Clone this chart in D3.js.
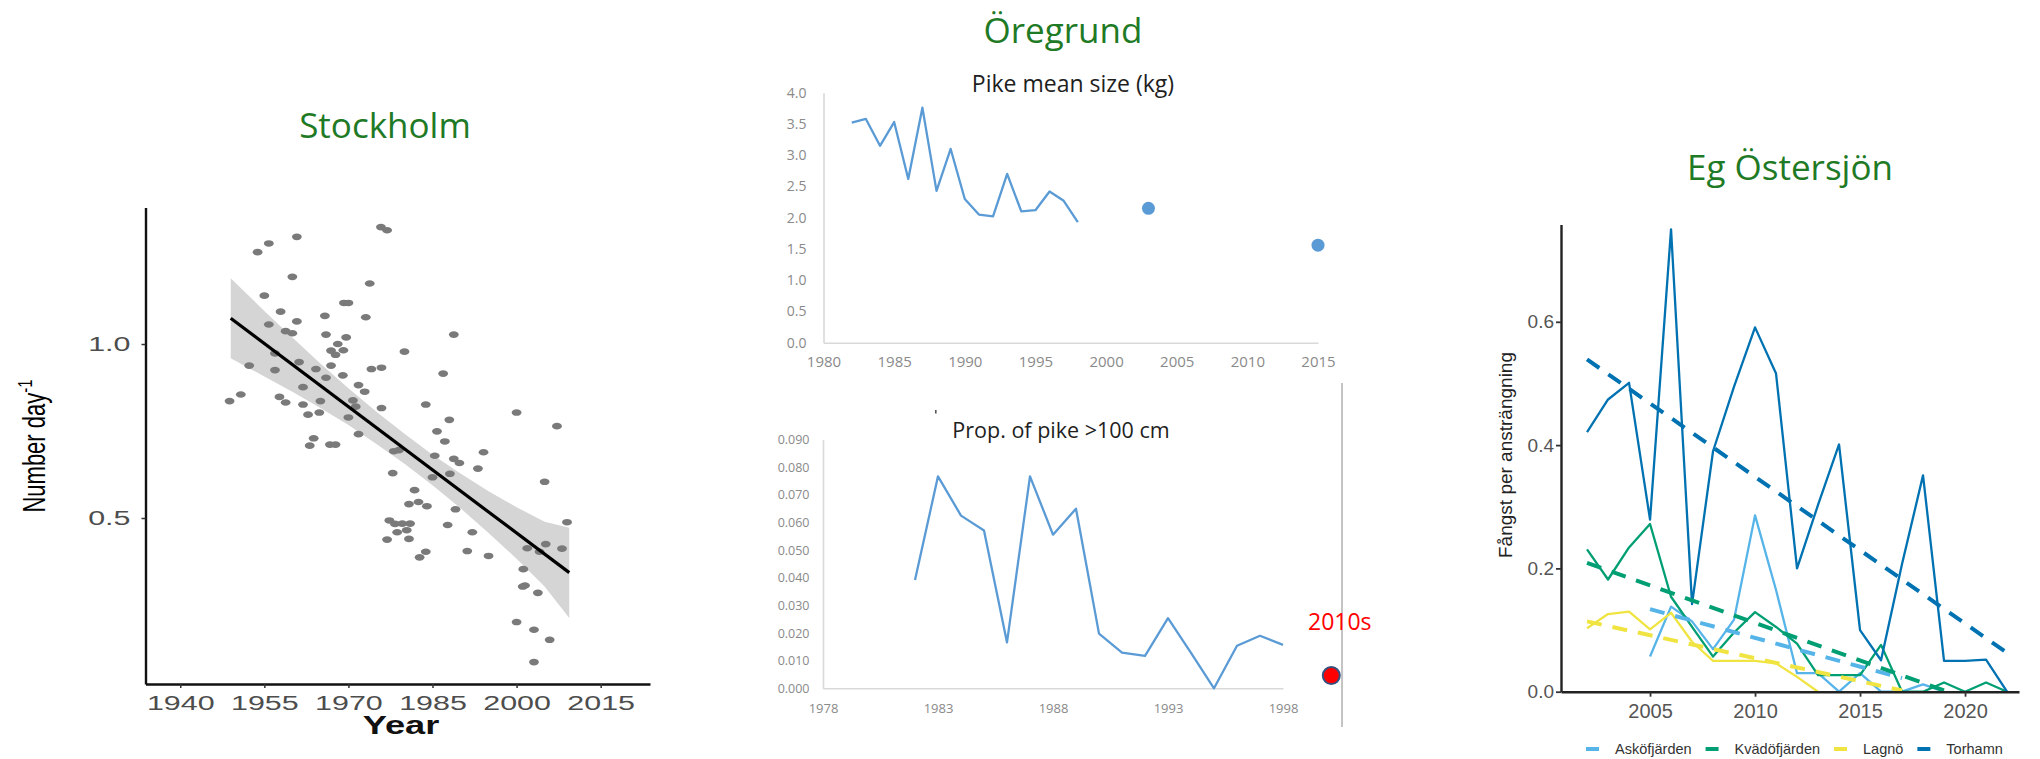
<!DOCTYPE html>
<html>
<head>
<meta charset="utf-8">
<script src="https://cdn.jsdelivr.net/npm/d3@7"></script>
<style>
  body { margin: 0; background: #fff; }
  svg text { font-family: "Open Sans", sans-serif; }
  .gg text { font-family: "Liberation Sans", Arial, sans-serif; }
</style>
</head>
<body>
<svg id="chart" width="2040" height="759"></svg>
<script>
// ---- Stockholm: catch per day, scatter + linear fit ----
const sthlmPoints = [
  [1948.8,0.836],[1950.8,0.855],[1952.3,0.938],[1953.8,1.264],[1955.8,1.289],[1955,1.139],
  [1955.8,1.056],[1956.9,0.973],[1956.9,0.925],[1957.9,1.093],[1957.7,0.848],[1958.8,0.832],
  [1958.8,1.037],[1960,1.193],[1960.8,1.308],[1960.8,1.065],[1960,1.031],[1961.2,0.948],
  [1961.9,0.876],[1961.9,0.826],[1962.8,0.797],[1963.1,0.708],[1963.8,0.729],[1964.2,0.928],
  [1964.8,0.803],[1965,0.836],[1965.8,1.081],[1966,1.027],[1966,0.903],[1966.7,0.711],
  [1967.7,0.711],[1966.9,0.938],[1966.9,0.981],[1968.1,1.0],[1967.7,0.969],[1969.1,0.982],
  [1969,0.91],[1969.2,1.118],[1970,1.118],[1969.6,1.019],[1970,0.789],[1970.8,0.838],
  [1971.3,0.82],[1971.8,0.882],[1971.8,0.741],[1972.9,0.863],[1973.1,1.077],[1973.8,1.174],
  [1974.1,0.928],[1975.8,1.336],[1976.9,1.327],[1975.9,0.932],[1975.9,0.816],[1976.9,0.438],
  [1977.3,0.493],[1977.9,0.629],[1978.1,0.692],[1979,0.695],[1978.7,0.459],[1978.3,0.483],
  [1979.6,0.484],[1980,0.978],[1980.4,0.465],[1980.8,0.44],[1981,0.484],[1981.8,0.58],
  [1980.8,0.54],[1982.5,0.546],[1982.7,0.387],[1983.8,0.403],[1983.8,0.826],[1984,0.534],
  [1985,0.617],[1985.4,0.679],[1985.8,0.749],[1986.9,0.915],[1987.2,0.72],[1988,0.782],
  [1987.7,0.48],[1988.8,1.027],[1988.8,0.67],[1989.8,0.658],[1989.1,0.525],[1988.1,0.627],
  [1991.2,0.405],[1992.1,0.459],[1993.1,0.642],[1994.1,0.689],[1995,0.391],[2000,0.803],
  [2000,0.201],[2001.1,0.303],[2001.2,0.353],[2001.5,0.306],[2001.9,0.413],[2003.1,0.179],
  [2003.1,0.086],[2003.8,0.285],[2004.1,0.403],[2005,0.604],[2005.2,0.425],[2005.9,0.15],
  [2007.2,0.764],[2008.1,0.412],[2009,0.488]
];
const sthlmFitYears = [1949, 2009.4];
const sthlmFit = [1.074, 0.343];
const sthlmBandYears = [1949, 1955, 1960, 1965, 1970, 1975, 1980, 1985, 1990, 1995, 2000, 2005, 2009.4];
const sthlmBandUpper = [1.189, 1.095, 1.019, 0.944, 0.873, 0.805, 0.742, 0.682, 0.628, 0.577, 0.531, 0.489, 0.472];
const sthlmBandLower = [0.959, 0.907, 0.863, 0.816, 0.767, 0.713, 0.656, 0.594, 0.528, 0.457, 0.383, 0.303, 0.213];
const sthlmXTicks = [1940, 1955, 1970, 1985, 2000, 2015];
const sthlmYTicks = [0.5, 1.0];

// ---- Öregrund: pike mean size ----
const pikeYears = [1982,1983,1984,1985,1986,1987,1988,1989,1990,1991,1992,1993,1994,1995,1996,1997,1998];
const pikeSize = [3.52,3.58,3.15,3.53,2.62,3.76,2.43,3.10,2.30,2.05,2.02,2.70,2.10,2.12,2.42,2.27,1.93];
const pikeDotYears = [2003, 2015];
const pikeDotSize = [2.15, 1.56];
const pikeXTicks = [1980,1985,1990,1995,2000,2005,2010,2015];
const pikeYTicks = [0,0.5,1,1.5,2,2.5,3,3.5,4];

// ---- Öregrund: proportion of pike > 100 cm ----
const bigYears = [1982,1983,1984,1985,1986,1987,1988,1989,1990,1991,1992,1993,1994,1995,1996,1997,1998];
const bigProp = [0.0392,0.0767,0.0625,0.0571,0.0166,0.0767,0.0556,0.0650,0.0198,0.0129,0.0117,0.0254,0.0128,0.0,0.0154,0.019,0.0157];
const bigXTicks = [1978,1983,1988,1993,1998];
const bigYTicks = [0,0.01,0.02,0.03,0.04,0.05,0.06,0.07,0.08,0.09];
const recentYear = 2000.1;
const recentProp = 0.0046;
const recentLabel = "2010s";

// ---- Eg Östersjön: catch per effort ----
const egYears = [2002,2003,2004,2005,2006,2007,2008,2009,2010,2011,2012,2013,2014,2015,2016,2017,2018,2019,2020,2021,2022];
const torhamn = [0.421,0.474,0.501,0.279,0.750,0.142,0.390,0.495,0.591,0.516,0.200,0.303,0.401,0.100,0.051,0.207,0.351,0.050,0.050,0.052,0.0];
const kvado = [0.231,0.182,0.234,0.272,0.154,0.105,0.057,0.096,0.129,0.105,0.078,0.027,0.027,0.027,0.076,0.0,0.0,0.015,0.0,0.015,0.0];
const lagnoYears = [2002,2003,2004,2005,2006,2007,2008,2009,2010,2011,2012,2013];
const lagno = [0.103,0.126,0.130,0.101,0.128,0.081,0.050,0.050,0.050,0.046,0.024,0.0];
const askoYears = [2005,2006,2007,2008,2009,2010,2011,2012,2013,2014,2015,2016,2017,2018,2019];
const asko = [0.057,0.138,0.114,0.069,0.117,0.286,0.165,0.030,0.030,0.0,0.030,0.0,0.0,0.012,0.0];
const egSeries = ["Asköfjärden", "Kvädöfjärden", "Lagnö", "Torhamn"];
const trendYears = [[2005, 2017], [2002, 2019], [2002, 2017], [2002, 2022]];
const trendValues = [[0.134, 0.022], [0.209, 0.002], [0.114, 0.002], [0.539, 0.063]];
const egXTicks = [2005, 2010, 2015, 2020];
const egYTicks = [0, 0.2, 0.4, 0.6];

const egColors = ["#56B4E9", "#009E73", "#F0E442", "#0072B2"];
const titleGreen = "#1f7a26";

const svg = d3.select("#chart");
svg.append("rect").attr("width", 2040).attr("height", 759).attr("fill", "#fff");

function pairs(xs, ys) { return xs.map((x, i) => [x, ys[i]]); }

// ================= Stockholm =================
const sx = d3.scaleLinear().domain([1933.8, 2023.8]).range([145.5, 650]);
const sy = d3.scaleLinear().domain([0.023, 1.392]).range([684, 207.6]);
const sg = svg.append("g").attr("class", "gg");
const stretch = 1.45;

const band = sthlmBandYears.map((yr, i) => ({ yr, hi: sthlmBandUpper[i], lo: sthlmBandLower[i] }));
sg.append("path")
  .datum(band)
  .attr("fill", "#d5d5d5")
  .attr("d", d3.area().x(d => sx(d.yr)).y0(d => sy(d.lo)).y1(d => sy(d.hi)));

sg.selectAll(".pt")
  .data(sthlmPoints)
  .enter().append("ellipse")
  .attr("class", "pt")
  .attr("cx", d => sx(d[0]))
  .attr("cy", d => sy(d[1]))
  .attr("rx", 4.9)
  .attr("ry", 3.3)
  .attr("fill", "#7a7a7a");

sg.append("path")
  .datum(pairs(sthlmFitYears, sthlmFit))
  .attr("fill", "none")
  .attr("stroke", "#000")
  .attr("stroke-width", 3.2)
  .attr("d", d3.line().x(d => sx(d[0])).y(d => sy(d[1])));

const sxAxis = sg.append("g")
  .attr("transform", "translate(0," + sy.range()[0] + ")")
  .call(d3.axisBottom(sx).tickValues(sthlmXTicks).tickFormat(d3.format("d")).tickSize(4).tickSizeOuter(0).tickPadding(7.5));
const syAxis = sg.append("g")
  .attr("transform", "translate(" + sx.range()[0] + ",0)")
  .call(d3.axisLeft(sy).tickValues(sthlmYTicks).tickFormat(d3.format(".1f")).tickSize(4).tickSizeOuter(0));
[sxAxis, syAxis].forEach(a => {
  a.select(".domain").attr("stroke", "#111").attr("stroke-width", 2.4);
  a.selectAll(".tick line").attr("stroke", "#333").attr("stroke-width", 1.5);
  a.selectAll(".tick text").attr("fill", "#4d4d4d").attr("font-size", 21)
    .attr("transform", "scale(" + stretch + ",1)");
});
syAxis.selectAll(".tick text").attr("x", -15 / stretch);

sg.append("text")
  .attr("transform", "translate(401,734) scale(" + stretch + ",1)")
  .attr("text-anchor", "middle")
  .attr("font-size", 25)
  .attr("font-weight", "bold")
  .attr("fill", "#111")
  .text("Year");

const ylab = sg.append("text")
  .attr("transform", "translate(45,446) scale(1.4,1) rotate(-90)")
  .attr("text-anchor", "middle")
  .attr("font-size", 22)
  .attr("fill", "#000");
ylab.append("tspan").text("Number day");
ylab.append("tspan").attr("font-size", 15).attr("dy", -9).text("-1");

svg.append("text")
  .attr("x", 385).attr("y", 138)
  .attr("text-anchor", "middle")
  .attr("font-size", 35)
  .attr("fill", titleGreen)
  .text("Stockholm");

// ================= Öregrund =================
svg.append("text")
  .attr("x", 1063).attr("y", 43)
  .attr("text-anchor", "middle")
  .attr("font-size", 35)
  .attr("fill", titleGreen)
  .text("Öregrund");

const excelBlue = "#5b9bd5";
const axisGrey = "#d9d9d9";
const labelGrey = "#8a8a8a";

// top: mean size
const px = d3.scaleLinear().domain([1980, 2015]).range([823.5, 1318]);
const py = d3.scaleLinear().domain([0, 4]).range([342.7, 92.7]);
const pg = svg.append("g");
const pxAxis = pg.append("g").attr("transform", "translate(0," + py(0) + ")")
  .call(d3.axisBottom(px).tickValues(pikeXTicks).tickFormat(d3.format("d")).tickSize(0).tickPadding(14));
const pyAxis = pg.append("g").attr("transform", "translate(" + px(1980) + ",0)")
  .call(d3.axisLeft(py).tickValues(pikeYTicks).tickFormat(d3.format(".1f")).tickSize(0).tickPadding(17));
[pxAxis, pyAxis].forEach(a => {
  a.select(".domain").attr("stroke", axisGrey).attr("stroke-width", 1.6);
  a.selectAll(".tick text").attr("fill", labelGrey).attr("font-size", 15);
});
pyAxis.selectAll(".tick text").attr("font-size", 14);

pg.append("path")
  .datum(pairs(pikeYears, pikeSize))
  .attr("fill", "none")
  .attr("stroke", excelBlue)
  .attr("stroke-width", 2.3)
  .attr("stroke-linejoin", "round")
  .attr("d", d3.line().x(d => px(d[0])).y(d => py(d[1])));
pg.selectAll(".dot")
  .data(pairs(pikeDotYears, pikeDotSize))
  .enter().append("circle")
  .attr("cx", d => px(d[0]))
  .attr("cy", d => py(d[1]))
  .attr("r", 6.5)
  .attr("fill", excelBlue);
pg.append("text")
  .attr("x", 1073).attr("y", 92)
  .attr("text-anchor", "middle")
  .attr("font-size", 23)
  .attr("fill", "#1e1e1e")
  .text("Pike mean size (kg)");

// bottom: proportion > 100 cm
const bx = d3.scaleLinear().domain([1978, 1998]).range([823, 1283]);
const by = d3.scaleLinear().domain([0, 0.09]).range([688.3, 439.6]);
const bg = svg.append("g");
const bxAxis = bg.append("g").attr("transform", "translate(0," + by(0) + ")")
  .call(d3.axisBottom(bx).tickValues(bigXTicks).tickFormat(d3.format("d")).tickSize(0).tickPadding(15));
const byAxis = bg.append("g").attr("transform", "translate(" + bx(1978) + ",0)")
  .call(d3.axisLeft(by).tickValues(bigYTicks).tickFormat(d3.format(".3f")).tickSize(0).tickPadding(13.5));
[bxAxis, byAxis].forEach(a => {
  a.select(".domain").attr("stroke", axisGrey).attr("stroke-width", 1.6);
  a.selectAll(".tick text").attr("fill", labelGrey).attr("font-size", 13);
});
byAxis.selectAll(".tick text").attr("font-size", 12.5);

bg.append("path")
  .datum(pairs(bigYears, bigProp))
  .attr("fill", "none")
  .attr("stroke", excelBlue)
  .attr("stroke-width", 2.3)
  .attr("stroke-linejoin", "round")
  .attr("d", d3.line().x(d => bx(d[0])).y(d => by(d[1])));
bg.append("text")
  .attr("x", 1061).attr("y", 438)
  .attr("text-anchor", "middle")
  .attr("font-size", 21.5)
  .attr("fill", "#1e1e1e")
  .text("Prop. of pike >100 cm");
bg.append("rect").attr("x", 935).attr("y", 410).attr("width", 1.6).attr("height", 3.5).attr("fill", "#555");

// separator line on the right of the panel
bg.append("line")
  .attr("x1", 1342).attr("x2", 1342).attr("y1", 383).attr("y2", 727)
  .attr("stroke", "#c4c4c4").attr("stroke-width", 2);

bg.append("circle")
  .attr("cx", bx(recentYear)).attr("cy", by(recentProp))
  .attr("r", 8.5)
  .attr("fill", "#ff0000")
  .attr("stroke", "#34507e")
  .attr("stroke-width", 2);
bg.append("text")
  .attr("x", 1308).attr("y", 630)
  .attr("font-size", 23)
  .attr("fill", "#ff0000")
  .text(recentLabel);

// ================= Eg Östersjön =================
const ex = d3.scaleLinear().domain([2000.76, 2022.57]).range([1561, 2019]);
const ey = d3.scaleLinear().domain([0, 0.758]).range([691.7, 224.4]);
const eg = svg.append("g").attr("class", "gg");

const egLines = [
  pairs(askoYears, asko),
  pairs(egYears, kvado),
  pairs(lagnoYears, lagno),
  pairs(egYears, torhamn)
];
const eLine = d3.line().x(d => ex(d[0])).y(d => ey(d[1]));

egLines.forEach((pts, i) => {
  eg.append("path")
    .datum(pts)
    .attr("fill", "none")
    .attr("stroke", egColors[i])
    .attr("stroke-width", 2.3)
    .attr("stroke-linejoin", "round")
    .attr("d", eLine);
});
trendYears.forEach((yrs, i) => {
  eg.append("path")
    .datum(pairs(yrs, trendValues[i]))
    .attr("fill", "none")
    .attr("stroke", egColors[i])
    .attr("stroke-width", 4)
    .attr("stroke-dasharray", "15,11")
    .attr("d", eLine);
});

const exAxis = eg.append("g").attr("transform", "translate(0," + ey.range()[0] + ")")
  .call(d3.axisBottom(ex).tickValues(egXTicks).tickFormat(d3.format("d")).tickSize(5).tickSizeOuter(0).tickPadding(7));
const eyAxis = eg.append("g").attr("transform", "translate(" + ex.range()[0] + ",0)")
  .call(d3.axisLeft(ey).tickValues(egYTicks).tickFormat(d3.format(".1f")).tickSize(5).tickSizeOuter(0).tickPadding(2));
[exAxis, eyAxis].forEach(a => {
  a.select(".domain").attr("stroke", "#222").attr("stroke-width", 2.4);
  a.selectAll(".tick line").attr("stroke", "#333").attr("stroke-width", 1.8);
  a.selectAll(".tick text").attr("fill", "#555").attr("font-size", 20);
});
eyAxis.selectAll(".tick text").attr("font-size", 19);

eg.append("text")
  .attr("transform", "translate(1512,455) rotate(-90)")
  .attr("text-anchor", "middle")
  .attr("font-size", 19)
  .attr("fill", "#222")
  .text("Fångst per ansträngning");

// legend
let lx = 1586;
egSeries.forEach((name, i) => {
  eg.append("line")
    .attr("x1", lx).attr("x2", lx + 13).attr("y1", 749).attr("y2", 749)
    .attr("stroke", egColors[i]).attr("stroke-width", 4);
  const t = eg.append("text")
    .attr("x", lx + 29).attr("y", 754)
    .attr("font-size", 14.5)
    .attr("fill", "#333")
    .text(name);
  lx += 29 + t.node().getComputedTextLength() + 14;
});

svg.append("text")
  .attr("x", 1790).attr("y", 180)
  .attr("text-anchor", "middle")
  .attr("font-size", 35)
  .attr("fill", titleGreen)
  .text("Eg Östersjön");
</script>
</body>
</html>
